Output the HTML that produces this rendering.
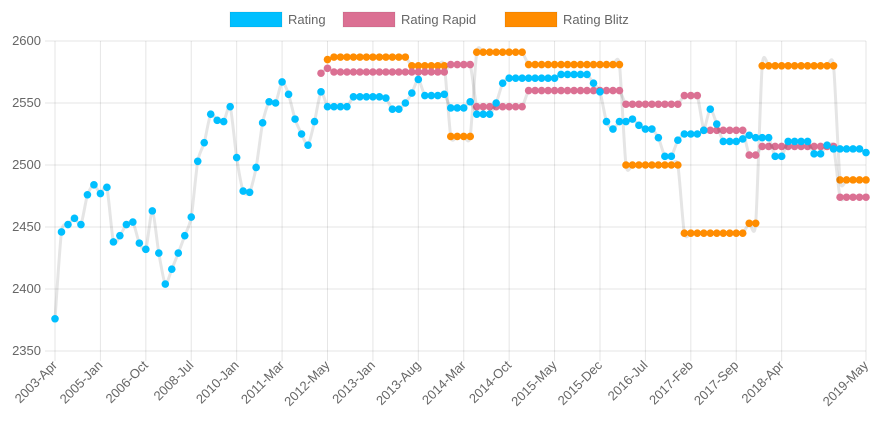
<!DOCTYPE html>
<html><head><meta charset="utf-8">
<style>
html,body{margin:0;padding:0;background:#fff;}
body{width:878px;height:435px;overflow:hidden;font-family:"Liberation Sans",sans-serif;}
svg text{font-family:"Liberation Sans",sans-serif;fill:#666;}
</style></head>
<body>
<svg id="chart" width="878" height="435" xmlns="http://www.w3.org/2000/svg"></svg>
<script>
const categories = ["2003-Apr","","","","","","","2005-Jan","","","","","","","2006-Oct","","","","","","","2008-Jul","","","","","","","2010-Jan","","","","","","","2011-Mar","","","","","","","2012-May","","","","","","","2013-Jan","","","","","","","2013-Aug","","","","","","","2014-Mar","","","","","","","2014-Oct","","","","","","","2015-May","","","","","","","2015-Dec","","","","","","","2016-Jul","","","","","","","2017-Feb","","","","","","","2017-Sep","","","","","","","2018-Apr","","","","","","","","","","","","","2019-May"];
const ratingValues = [2376,2446,2452,2457,2452,2476,2484,2477,2482,2438,2443,2452,2454,2437,2432,2463,2429,2404,2416,2429,2443,2458,2503,2518,2541,2536,2535,2547,2506,2479,2478,2498,2534,2551,2550,2567,2557,2537,2525,2516,2535,2559,
2547,2547,2547,2547,2555,2555,2555,2555,2555,2554,2545,2545,2550,2558,2569,2556,2556,2556,2557,2546,2546,2546,2551,2541,2541,2541,2550,2566,2570,2570,2570,2570,2570,2570,2570,2570,2573,2573,2573,2573,2573,
2566,2559,2535,2529,2535,2535,2537,2532,2529,2529,2522,2507,2507,2520,2525,2525,2525,2528,2545,2533,2519,2519,2519,2521,2524,2522,2522,2522,2507,2507,2519,2519,2519,2519,2509,2509,2516,2513,2513,2513,2513,2513,2510];
const rapidValues = [null,null,null,null,null,null,null,null,null,null,null,null,null,null,null,null,null,null,null,null,null,null,null,null,null,null,null,null,null,null,null,null,null,null,null,null,null,null,null,null,null,
2574,2578,2575,2575,2575,2575,2575,2575,2575,2575,2575,2575,2575,2575,2575,2575,2575,2575,2575,2575,2581,2581,2581,2581,2547,2547,2547,2547,2547,2547,2547,2547,
2560,2560,2560,2560,2560,2560,2560,2560,2560,2560,2560,2560,2560,2560,2560,2549,2549,2549,2549,2549,2549,2549,2549,2549,2556,2556,2556,2528,2528,2528,2528,2528,2528,2528,2508,2508,
2515,2515,2515,2515,2515,2515,2515,2515,2515,2515,2515,2515,2474,2474,2474,2474,2474];
const blitzValues = [null,null,null,null,null,null,null,null,null,null,null,null,null,null,null,null,null,null,null,null,null,null,null,null,null,null,null,null,null,null,null,null,null,null,null,null,null,null,null,null,null,null,
2585,2587,2587,2587,2587,2587,2587,2587,2587,2587,2587,2587,2587,2580,2580,2580,2580,2580,2580,2523,2523,2523,2523,2591,2591,2591,2591,2591,2591,2591,2591,
2581,2581,2581,2581,2581,2581,2581,2581,2581,2581,2581,2581,2581,2581,2581,2500,2500,2500,2500,2500,2500,2500,2500,2500,2445,2445,2445,2445,2445,2445,2445,2445,2445,2445,2453,2453,
2580,2580,2580,2580,2580,2580,2580,2580,2580,2580,2580,2580,2488,2488,2488,2488,2488];
const yTicks = [2350,2400,2450,2500,2550,2600];
const seriesNames = ["Rating","Rating Rapid","Rating Blitz"];

const NS="http://www.w3.org/2000/svg";
const svg=document.getElementById('chart');
const X0=55,X1=866,Y0=351,Y1=41,YMIN=2350,YMAX=2600;
function xScale(i){return X0+(X1-X0)*i/(categories.length-1);}
function yScale(v){return Y0-(v-YMIN)/(YMAX-YMIN)*(Y0-Y1);}
function mk(tag,attrs){const e=document.createElementNS(NS,tag);for(const k in attrs)e.setAttribute(k,attrs[k]);svg.appendChild(e);return e;}

yTicks.forEach(t=>{
  const y=yScale(t);
  const g=mk('line',{x1:45,x2:X1,y1:y,y2:y,stroke:'rgba(0,0,0,0.1)','stroke-width':1});
  
  
  const tx=mk('text',{x:41,y:y+4,'text-anchor':'end','font-size':13});
  tx.textContent=t;
  
  
});
categories.forEach((c,i)=>{
  if(!c)return;
  const x=xScale(i);
  const g=mk('line',{x1:x,x2:x,y1:Y1,y2:Y0+10,stroke:'rgba(0,0,0,0.1)','stroke-width':1});
  
  
  const tx=mk('text',{x:x+3,y:Y0+15,'text-anchor':'end','font-size':13,transform:`rotate(-45 ${x+3} ${Y0+15})`});
  tx.textContent=c;
  
  
});

function smoothPath(pts){
  if(pts.length<2)return '';
  let d=`M${pts[0][0]},${pts[0][1]}`;
  for(let i=0;i<pts.length-1;i++){
    const p0=pts[i-1]||pts[i],p1=pts[i],p2=pts[i+1],p3=pts[i+2]||p2;
    const t=0.12;
    const c1=[p1[0]+(p2[0]-p0[0])*t,p1[1]+(p2[1]-p0[1])*t];
    const c2=[p2[0]-(p3[0]-p1[0])*t,p2[1]-(p3[1]-p1[1])*t];
    d+=` C${c1[0]},${c1[1]} ${c2[0]},${c2[1]} ${p2[0]},${p2[1]}`;
  }
  return d;
}
function drawSeries(vals,color,name){
  const pts=[];
  vals.forEach((v,i)=>{if(v!==null)pts.push([xScale(i),yScale(v)]);});
  const p=mk('path',{d:smoothPath(pts),fill:'none',stroke:'rgba(0,0,0,0.1)','stroke-width':3});
  
  
  pts.forEach(q=>{
    const c=mk('circle',{cx:q[0],cy:q[1],r:3.8,fill:color});
    
    
  });
}
drawSeries(blitzValues,'#ff8c00','rating-blitz');
drawSeries(rapidValues,'#db7093','rating-rapid');
drawSeries(ratingValues,'#00bfff','rating');

const legend=[[230,'#00bfff',0],[343,'#db7093',1],[505,'#ff8c00',2]];
legend.forEach(([x,col,k])=>{
  const r=mk('rect',{x:x,y:12,width:52,height:15,fill:col,stroke:'rgba(0,0,0,0.08)','stroke-width':1});
  
  
  const t=mk('text',{x:x+58,y:24,'font-size':13});
  t.textContent=seriesNames[k];
  
  
});
</script>
</body></html>
